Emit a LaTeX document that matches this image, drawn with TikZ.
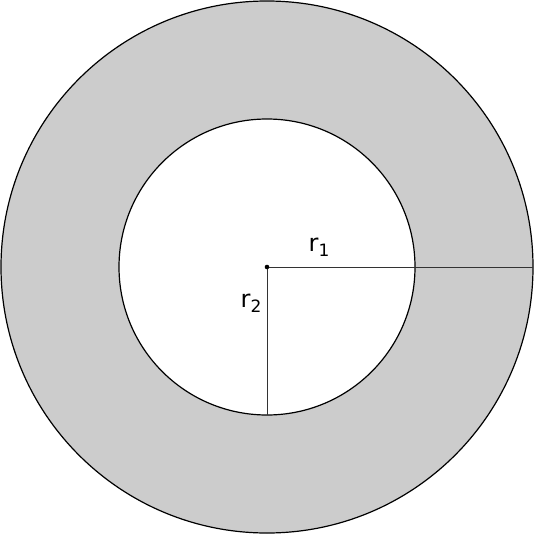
\documentclass[tikz,border=0pt]{standalone}
\usepackage{fontspec}
\setmainfont{DejaVu Sans}
\tikzset{
  ring/.style={draw=black, line width=1.2pt},
  radius line/.style={draw=black!80, line width=1pt},
  lbl/.style={font=\fontsize{24}{28}\selectfont, inner sep=0pt}
}
\newcommand{\subl}[1]{\raisebox{-0.35ex}{\fontsize{17}{19}\selectfont #1}}
\begin{document}
\begin{tikzpicture}[x=1pt,y=-1pt]
\useasboundingbox (0,0) rectangle (535,535);
\coordinate (c) at (267,267);
\fill[black!20] (c) circle (266);
\draw[ring] (c) circle (266);
\fill[white] (c) circle (148);
\draw[ring] (c) circle (148);
\coordinate (e1) at (533,267);
\coordinate (e2) at (267,415);
\draw[radius line] (c) -- (e1);
\draw[radius line] (c) -- (e2);
\fill (c) circle (2.3);
\node[lbl] (r1) at (319,247) {r\subl{1}};
\node[lbl] (r2) at (251,303) {r\subl{2}};
\end{tikzpicture}
\end{document}
